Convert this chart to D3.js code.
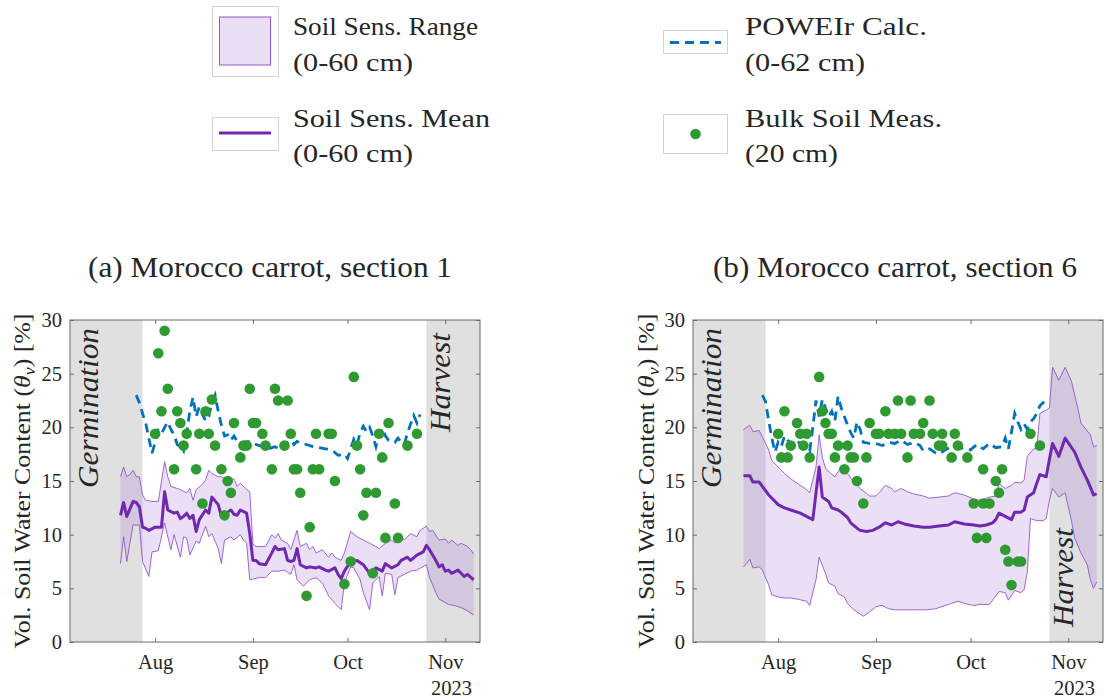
<!DOCTYPE html>
<html>
<head>
<meta charset="utf-8">
<script src="https://cdn.jsdelivr.net/npm/d3@7"></script>
<style>
  body { margin: 0; background: #fff; }
  svg text { font-family: "Liberation Serif", "Times New Roman", "DejaVu Serif", serif; fill: #262626; }
</style>
</head>
<body>
<svg id="fig" width="1104" height="700"></svg>
<script>
// ---- Data: [day of year 2023, volumetric water content %] ----

// Section 1: soil sensors (0-60 cm), mean / max / min over the sensor profile
const sec1Mean = [[202,11.8],[203,13.0],[204,11.7],[206,13.1],[207,13.0],[208,12.6],[209,10.7],[210,10.6],[211,10.4],[213,10.7],[215,10.7],[216,14.0],[217,12.3],[219,12.0],[220,12.1],[221,11.5],[222,11.7],[223,12.0],[224,11.5],[225,11.8],[226,10.3],[227,11.4],[229,12.3],[230,12.0],[231,13.5],[233,12.8],[234,11.7],[236,12.1],[237,12.3],[238,11.9],[239,11.8],[240,12.3],[242,12.0],[243,10.1],[244,7.6],[245,7.6],[246,7.3],[248,7.2],[250,8.3],[251,8.9],[252,8.6],[254,8.7],[255,7.6],[256,7.5],[257,7.6],[258,8.7],[259,7.2],[261,6.9],[262,7.0],[264,6.9],[265,7.0],[267,6.7],[268,6.6],[270,6.9],[271,6.3],[272,5.9],[273,6.6],[275,7.5],[277,7.6],[279,7.2],[281,6.4],[283,6.9],[285,6.6],[286,7.3],[288,6.9],[290,7.2],[291,7.6],[293,7.9],[294,7.6],[296,8.1],[298,8.4],[299,9.0],[300,8.6],[302,7.6],[303,7.0],[304,7.2],[305,6.6],[306,6.7],[307,6.4],[309,6.7],[310,6.4],[311,6.1],[312,6.3],[314,5.8]];
const sec1Max = [[202,15.4],[203,16.3],[204,15.4],[205,15.6],[206,16.0],[207,15.4],[208,15.4],[209,13.7],[210,13.2],[212,13.1],[214,13.1],[216,16.8],[217,15.4],[218,14.5],[220,14.3],[221,14.2],[223,13.9],[224,14.3],[225,13.2],[226,14.2],[228,14.7],[229,15.1],[230,16.0],[231,15.7],[233,15.4],[234,15.4],[236,15.1],[238,15.2],[239,14.5],[240,14.8],[242,14.2],[243,14.0],[244,9.1],[245,8.9],[246,8.9],[248,8.9],[250,10.0],[251,9.7],[252,10.1],[253,9.5],[255,9.2],[256,8.6],[258,10.4],[259,8.9],[261,9.2],[262,8.6],[263,8.9],[264,8.3],[266,8.6],[268,7.9],[269,8.3],[270,7.9],[272,7.6],[273,8.3],[275,10.3],[277,9.8],[279,9.5],[281,9.2],[283,8.9],[284,8.7],[286,9.2],[288,9.5],[289,9.2],[291,9.8],[292,9.5],[294,10.1],[296,9.8],[297,10.4],[299,10.8],[300,10.3],[301,10.4],[303,9.5],[305,9.6],[306,9.2],[307,9.5],[309,9.0],[310,9.2],[312,8.9],[313,8.6],[314,8.2]];
const sec1Min = [[202,7.3],[203,9.8],[204,7.5],[205,9.2],[206,10.9],[208,10.9],[209,7.5],[211,6.1],[212,8.4],[214,8.5],[216,11.1],[217,9.8],[218,8.6],[219,10.0],[221,7.9],[222,9.8],[223,9.7],[224,8.1],[226,9.4],[227,9.2],[229,10.8],[230,9.8],[231,10.1],[233,8.7],[234,7.3],[235,9.5],[237,9.8],[238,9.5],[240,10.0],[241,9.5],[242,9.2],[243,5.8],[246,6.0],[248,6.0],[250,6.6],[252,6.6],[254,6.7],[256,6.3],[257,7.2],[258,5.8],[260,5.2],[262,5.8],[264,6.0],[266,5.5],[268,4.3],[270,3.6],[272,3.0],[273,5.5],[275,7.0],[276,6.9],[278,5.8],[279,4.6],[281,3.0],[282,5.5],[284,6.1],[285,4.3],[286,6.4],[288,6.3],[289,4.4],[290,6.0],[292,6.3],[294,6.6],[296,6.7],[299,7.2],[300,6.0],[302,4.6],[303,4.0],[306,3.5],[308,3.4],[310,3.2],[312,2.9],[314,2.5]];
// Section 1: POWEIr calculation (0-62 cm)
const sec1Calc = [[207,23.0],[208,22.3],[209,21.3],[210,20.4],[211,19.0],[212,17.6],[213,18.6],[214,19.7],[215,19.4],[216,20.0],[217,20.5],[218,19.8],[219,19.3],[220,18.4],[221,18.2],[222,17.8],[223,19.5],[224,21.5],[225,22.8],[226,21.0],[227,21.9],[228,21.2],[229,20.6],[230,21.0],[231,22.3],[232,23.0],[233,21.5],[234,20.2],[235,19.2],[236,19.3],[237,18.8],[238,19.2],[239,18.7],[240,18.5],[241,18.6],[243,18.7],[244,18.5],[245,18.4],[247,18.2],[249,18.0],[251,18.2],[253,17.9],[255,18.6],[256,18.8],[257,18.4],[258,18.7],[259,18.5],[261,18.4],[263,18.2],[265,18.1],[267,18.0],[269,17.9],[271,17.4],[273,17.5],[274,17.1],[276,18.9],[277,18.4],[278,19.5],[279,20.1],[280,19.6],[281,20.0],[282,19.2],[283,18.2],[284,19.4],[285,19.9],[286,19.2],[287,18.8],[288,18.7],[289,18.6],[290,19.0],[291,18.6],[292,18.4],[293,19.5],[294,20.3],[295,21.1],[296,20.4],[297,21.2]];
// Section 1: bulk soil samples (20 cm)
const sec1Bulk = [[216,29.0],[214,26.9],[217,23.6],[215,21.5],[220,21.5],[231,22.6],[229,21.5],[221,20.4],[238,20.4],[213,19.4],[223,19.4],[227,19.4],[230,19.4],[222,18.3],[232,18.3],[219,16.1],[226,16.1],[234,16.1],[236,15.0],[237,13.9],[228,12.9],[235,11.8],[243,23.6],[251,23.6],[252,22.5],[255,22.5],[244,20.4],[245,20.4],[247,19.4],[256,19.4],[264,19.4],[268,19.4],[269,19.4],[241,18.3],[242,18.3],[248,18.3],[254,18.3],[240,17.2],[277,18.3],[250,16.1],[257,16.1],[258,16.1],[263,16.1],[265,16.1],[270,15.0],[259,13.9],[262,10.7],[261,4.3],[275,7.5],[273,5.4],[276,24.7],[287,20.4],[284,19.4],[296,19.4],[293,18.3],[285,17.2],[278,16.1],[280,13.9],[283,13.9],[289,12.9],[279,11.8],[286,9.7],[290,9.7],[282,6.4]];

// Section 6: soil sensors (0-60 cm)
const sec6Mean = [[202,15.5],[204,15.5],[205,14.9],[207,14.9],[208,14.5],[210,13.7],[212,13.1],[213,12.8],[215,12.5],[217,12.3],[220,12.0],[222,11.7],[224,11.4],[225,13.9],[226,16.3],[227,13.5],[229,13.1],[230,12.5],[232,12.3],[233,12.1],[235,11.6],[236,11.1],[238,10.6],[239,10.4],[241,10.3],[243,10.4],[245,10.7],[247,11.1],[249,10.9],[251,11.2],[253,11.0],[256,10.8],[259,10.7],[261,10.7],[264,10.8],[267,10.9],[269,11.2],[272,11.0],[275,10.9],[277,10.8],[279,10.9],[281,11.1],[282,11.4],[283,12.0],[285,11.7],[287,11.4],[288,12.1],[290,12.1],[291,12.3],[292,13.5],[294,13.9],[295,14.8],[296,15.6],[298,15.4],[299,17.0],[300,18.5],[302,17.3],[304,19.0],[307,17.7],[309,16.3],[311,15.1],[313,13.7],[314,13.8]];
const sec6Max = [[202,19.8],[204,20.2],[205,19.6],[207,19.7],[208,19.1],[210,17.9],[211,16.9],[213,16.3],[215,15.7],[217,15.2],[219,14.8],[222,14.2],[223,13.9],[225,16.3],[226,19.3],[227,17.2],[228,16.2],[230,15.6],[231,15.4],[233,16.3],[235,15.7],[237,14.9],[239,14.3],[242,13.6],[244,13.6],[245,13.9],[247,14.6],[249,14.3],[250,14.0],[252,14.3],[254,14.0],[256,13.8],[259,13.6],[261,13.4],[264,13.5],[267,13.6],[269,13.9],[272,13.7],[275,13.3],[277,13.2],[280,13.5],[282,13.6],[283,14.8],[285,14.3],[287,14.6],[288,14.9],[290,14.8],[291,15.1],[292,17.3],[294,18.0],[295,18.0],[296,21.3],[298,21.6],[299,21.8],[300,25.6],[302,24.4],[304,25.6],[306,24.3],[308,21.8],[309,20.4],[312,19.3],[313,18.2],[314,18.3]];
const sec6Min = [[202,7.0],[203,7.3],[204,7.7],[205,6.9],[207,7.0],[208,6.7],[210,5.3],[211,4.4],[213,4.2],[215,4.1],[217,4.1],[219,4.0],[222,3.8],[223,3.4],[225,5.8],[226,7.9],[228,6.4],[229,5.5],[231,5.2],[232,4.5],[234,4.2],[235,3.6],[237,3.0],[239,2.6],[240,2.4],[242,2.8],[244,3.3],[246,3.4],[248,3.1],[250,3.0],[252,3.0],[255,3.0],[258,3.0],[260,3.0],[263,3.1],[266,3.4],[268,3.6],[270,3.8],[272,3.6],[275,3.4],[277,3.5],[280,3.5],[281,3.9],[283,4.7],[285,4.6],[286,3.9],[288,4.8],[290,4.6],[291,4.9],[292,6.5],[293,11.5],[295,11.3],[297,11.3],[298,11.5],[299,13.2],[300,14.3],[302,13.5],[304,13.9],[306,11.3],[307,9.7],[309,8.3],[311,7.2],[312,5.8],[313,5.0],[314,5.6]];
// Section 6: POWEIr calculation (0-62 cm)
const sec6Calc = [[208,23.0],[209,22.4],[210,20.6],[211,19.0],[212,17.7],[213,18.6],[214,18.2],[215,19.2],[216,18.8],[217,18.5],[218,18.3],[219,18.7],[220,18.5],[221,18.3],[222,18.0],[223,17.8],[224,20.0],[225,22.5],[226,21.0],[227,22.6],[228,21.8],[229,21.0],[230,21.5],[231,20.6],[232,22.9],[233,21.8],[234,21.0],[235,20.2],[236,19.5],[237,19.0],[238,20.5],[239,19.8],[240,18.6],[242,18.5],[244,18.5],[246,18.3],[248,18.6],[250,18.5],[252,18.8],[254,18.4],[256,18.6],[258,18.3],[259,17.8],[261,18.0],[263,17.6],[264,17.5],[266,17.9],[268,18.2],[270,18.0],[272,18.1],[274,17.9],[276,18.4],[278,18.0],[280,18.5],[282,18.1],[284,18.2],[285,19.0],[286,18.0],[287,19.6],[288,21.3],[289,20.5],[290,19.8],[291,20.3],[292,19.8],[293,20.5],[294,20.8],[295,21.3],[296,22.0],[297,22.3],[298,22.0]];
// Section 6: bulk soil samples (20 cm)
const sec6Bulk = [[226,24.7],[215,21.5],[227,21.5],[219,20.4],[228,20.4],[213,19.4],[220,19.4],[222,19.4],[229,19.4],[230,19.4],[217,18.3],[221,18.3],[232,18.3],[235,18.3],[214,17.2],[216,17.2],[223,17.2],[231,17.2],[236,17.2],[237,17.2],[234,16.1],[238,15.0],[240,12.9],[251,22.5],[255,22.5],[261,22.5],[247,21.5],[242,20.4],[259,20.4],[244,19.4],[245,19.4],[248,19.4],[250,19.4],[252,19.4],[256,19.4],[258,19.4],[262,19.4],[265,19.4],[269,19.4],[264,18.3],[265,18.3],[270,18.3],[241,17.2],[254,17.2],[268,17.2],[273,17.2],[275,12.9],[278,12.9],[280,12.9],[276,9.7],[279,9.7],[278,16.1],[284,16.1],[282,15.0],[283,13.9],[285,8.6],[286,7.5],[289,7.5],[290,7.5],[287,5.3],[293,19.4],[296,18.3]];

// Axis / period settings
const xStart = "2023-07-05", xEnd = "2023-11-12";
const germinationEnd = "2023-07-28", harvestStart = "2023-10-26";
const yTickValues = [0, 5, 10, 15, 20, 25, 30];
const panelTitles = ["(a) Morocco carrot, section 1", "(b) Morocco carrot, section 6"];
const legendLabels = [["Soil Sens. Range", "(0-60 cm)"], ["Soil Sens. Mean", "(0-60 cm)"],
                      ["POWEIr Calc.", "(0-62 cm)"], ["Bulk Soil Meas.", "(20 cm)"]];

// ---- Styling ----
const C = {
  band: "#e0e0e0", rangeFill: "rgb(160,110,210)", rangeEdge: "#9457cf",
  mean: "#7028b0", calc: "#0072bd", bulk: "#2f9a31", axis: "#6a6a6a", note: "#7f7f7f"
};
const serif = '"Liberation Serif", "Times New Roman", "DejaVu Serif", serif';

const svg = d3.select("#fig");
const parse = d3.timeParse("%Y-%m-%d");
const dayDate = d => new Date(2023, 0, d);
const plotTop = 320, plotBottom = 642;
const y = d3.scaleLinear().domain([0, 30]).range([plotBottom, plotTop]);

const panels = [
  { title: panelTitles[0], mean: sec1Mean, max: sec1Max, min: sec1Min, calc: sec1Calc, bulk: sec1Bulk,
    left: 70, right: 480, titleX: 270, ylabelX: 29.5, harvestLow: false },
  { title: panelTitles[1], mean: sec6Mean, max: sec6Max, min: sec6Min, calc: sec6Calc, bulk: sec6Bulk,
    left: 693, right: 1103, titleX: 895, ylabelX: 653.5, harvestLow: true }
];

panels.forEach(p => {
  const x = d3.scaleTime().domain([parse(xStart), parse(xEnd)]).range([p.left, p.right]);
  const g = svg.append("g");
  const pt = d => [x(dayDate(d[0])), y(d[1])];
  const line = d3.line().x(d => x(dayDate(d[0]))).y(d => y(d[1]));

  // growing-period shading
  g.append("rect").attr("x", x(parse(xStart))).attr("y", plotTop)
    .attr("width", x(parse(germinationEnd)) - x(parse(xStart))).attr("height", plotBottom - plotTop)
    .attr("fill", C.band);
  g.append("rect").attr("x", x(parse(harvestStart))).attr("y", plotTop)
    .attr("width", x(parse(xEnd)) - x(parse(harvestStart))).attr("height", plotBottom - plotTop)
    .attr("fill", C.band);

  // sensor range envelope (max forward, min backward)
  const ring = p.max.map(pt).concat(p.min.slice().reverse().map(pt));
  g.append("path").attr("d", d3.line()(ring) + "Z")
    .attr("fill", C.rangeFill).attr("fill-opacity", 0.22).attr("stroke", "none");
  [p.max, p.min].forEach(s => g.append("path").attr("d", line(s))
    .attr("fill", "none").attr("stroke", C.rangeEdge).attr("stroke-width", 0.9)
    .attr("stroke-linejoin", "round"));

  // sensor mean
  g.append("path").attr("d", line(p.mean)).attr("fill", "none")
    .attr("stroke", C.mean).attr("stroke-width", 3).attr("stroke-linejoin", "round");

  // POWEIr calculation
  g.append("path").attr("d", line(p.calc)).attr("fill", "none")
    .attr("stroke", C.calc).attr("stroke-width", 2.8).attr("stroke-dasharray", "9,6");

  // bulk soil measurements
  g.selectAll("circle.bulk").data(p.bulk).join("circle").attr("class", "bulk")
    .attr("cx", d => x(dayDate(d[0]))).attr("cy", d => y(d[1])).attr("r", 5.3)
    .attr("fill", C.bulk);

  // period annotations (rotated, baseline on the right-hand side)
  const xg = x(parse(xStart)) + 28;
  g.append("text").attr("transform", `translate(${xg},488) rotate(-90)`)
    .attr("font-family", serif).attr("font-style", "italic").attr("font-size", 29).attr("fill", C.note)
    .attr("textLength", 160).attr("lengthAdjust", "spacingAndGlyphs").text("Germination");
  const xh = x(parse(harvestStart)) + 24;
  const harvest = g.append("text").attr("font-family", serif).attr("font-style", "italic")
    .attr("font-size", 29).attr("fill", C.note)
    .attr("textLength", 99).attr("lengthAdjust", "spacingAndGlyphs").text("Harvest");
  if (p.harvestLow) harvest.attr("transform", `translate(${xh},627) rotate(-90)`);
  else harvest.attr("transform", `translate(${xh},333) rotate(-90)`).attr("text-anchor", "end");

  // axes (ticks pointing inward on all four sides)
  const monthTicks = d3.timeMonth.range(parse(xStart), parse(xEnd));
  const bottomAxis = g.append("g").attr("transform", `translate(0,${plotBottom})`)
    .call(d3.axisBottom(x).tickValues(monthTicks).tickFormat(d3.timeFormat("%b"))
      .tickSizeInner(-4).tickSizeOuter(0).tickPadding(12));
  const topAxis = g.append("g").attr("transform", `translate(0,${plotTop})`)
    .call(d3.axisTop(x).tickValues(monthTicks).tickFormat("").tickSizeInner(-4).tickSizeOuter(0));
  const leftAxis = g.append("g").attr("transform", `translate(${p.left},0)`)
    .call(d3.axisLeft(y).tickValues(yTickValues).tickSizeInner(-4).tickSizeOuter(0).tickPadding(8));
  const rightAxis = g.append("g").attr("transform", `translate(${p.right},0)`)
    .call(d3.axisRight(y).tickValues(yTickValues).tickFormat("").tickSizeInner(-4).tickSizeOuter(0));
  [bottomAxis, topAxis, leftAxis, rightAxis].forEach(a => {
    a.select(".domain").remove();
    a.selectAll(".tick line").attr("stroke", C.axis);
    a.attr("font-family", serif).attr("font-size", 20.5);
    a.selectAll(".tick text").attr("fill", "#262626");
  });
  g.append("text").attr("x", p.right - 8).attr("y", 695).attr("text-anchor", "end")
    .attr("font-family", serif).attr("font-size", 20.5).text("2023");

  g.append("rect").attr("x", p.left).attr("y", plotTop)
    .attr("width", p.right - p.left).attr("height", plotBottom - plotTop)
    .attr("fill", "none").attr("stroke", C.axis).attr("stroke-width", 1);

  // y-axis label
  const yl = g.append("text").attr("transform", `translate(${p.ylabelX},481) rotate(-90)`)
    .attr("text-anchor", "middle").attr("font-family", serif).attr("font-size", 23.3)
    .attr("textLength", 335).attr("lengthAdjust", "spacingAndGlyphs");
  yl.append("tspan").text("Vol. Soil Water Content (");
  yl.append("tspan").attr("font-style", "italic").text("θ");
  yl.append("tspan").attr("font-style", "italic").attr("font-size", 16).attr("dy", 5).text("v");
  yl.append("tspan").attr("dy", -5).text(") [%]");

  // panel title
  g.append("text").attr("x", p.titleX).attr("y", 277).attr("text-anchor", "middle")
    .attr("font-family", serif).attr("font-size", 28.6)
    .attr("textLength", 364).attr("lengthAdjust", "spacingAndGlyphs")
    .text(p.title);
});

// ---- Legend ----
const lg = svg.append("g");
const legendText = (x, yTop, lines, widths) => {
  lines.forEach((t, i) => lg.append("text").attr("x", x).attr("y", yTop + i * 35.5)
    .attr("font-family", serif).attr("font-size", 26)
    .attr("textLength", widths[i]).attr("lengthAdjust", "spacingAndGlyphs").text(t));
};
const box = (x, y0, w, h) => lg.append("rect").attr("x", x).attr("y", y0).attr("width", w).attr("height", h)
  .attr("fill", "#fff").attr("stroke", "#d4d4d4").attr("stroke-width", 1);

// range swatch
box(212.5, 6.5, 66, 70);
lg.append("rect").attr("x", 219.5).attr("y", 17).attr("width", 51).attr("height", 48)
  .attr("fill", C.rangeFill).attr("fill-opacity", 0.22).attr("stroke", C.rangeEdge).attr("stroke-width", 1);
legendText(293, 35, legendLabels[0], [185, 120]);

// mean swatch
box(212.5, 117.5, 66, 33);
lg.append("line").attr("x1", 219).attr("x2", 271).attr("y1", 133).attr("y2", 133)
  .attr("stroke", C.mean).attr("stroke-width", 3.2);
legendText(293, 126.5, legendLabels[1], [197, 120]);

// calc swatch
box(663.5, 30.5, 64, 23);
lg.append("line").attr("x1", 670).attr("x2", 721).attr("y1", 42.5).attr("y2", 42.5)
  .attr("stroke", C.calc).attr("stroke-width", 2.8).attr("stroke-dasharray", "9,6");
legendText(745, 35, legendLabels[2], [182, 120]);

// bulk swatch
box(663.5, 114.5, 64, 39);
lg.append("circle").attr("cx", 695.5).attr("cy", 134).attr("r", 5.3).attr("fill", C.bulk);
legendText(745, 126.5, legendLabels[3], [197, 93]);
</script>
</body>
</html>
